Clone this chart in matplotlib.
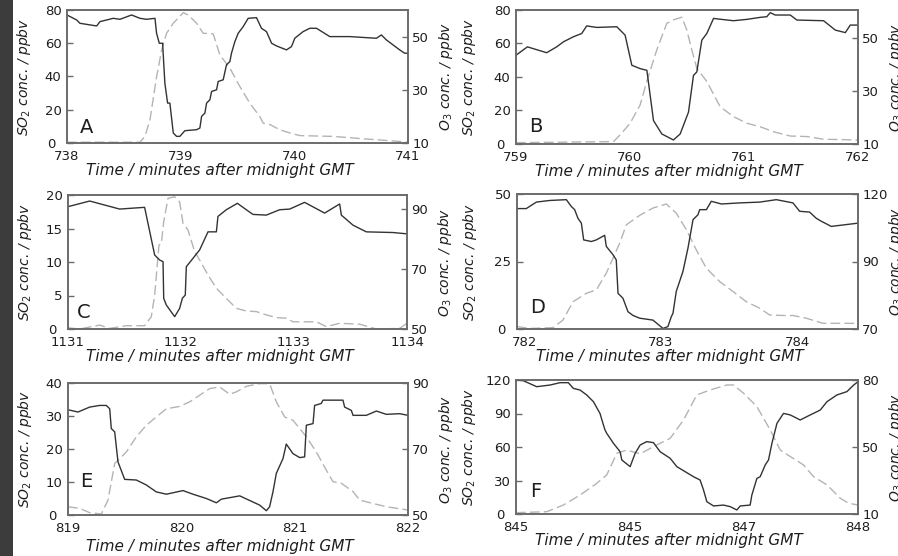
import matplotlib
matplotlib.use("Agg")
import matplotlib.pyplot as plt
from matplotlib.patches import Rectangle
from matplotlib.transforms import ScaledTranslation

plt.rcParams['font.family'] = ['DejaVu Sans']
plt.rcParams['mathtext.fontset'] = 'dejavusans'

# ---- data (time in minutes after midnight GMT) ----
a_so2_t = [738.00, 738.085, 738.114, 738.261, 738.29, 738.349, 738.407, 738.466, 738.568, 738.642,
           738.70, 738.774, 738.788, 738.812, 738.841, 738.861, 738.885, 738.905, 738.935, 738.964,
           738.993, 739.037, 739.14, 739.169, 739.184, 739.213, 739.228, 739.257, 739.272, 739.316,
           739.330, 739.374, 739.403, 739.433, 739.447, 739.477, 739.506, 739.55, 739.594, 739.667,
           739.711, 739.755, 739.80, 739.843, 739.931, 739.975, 740.004, 740.077, 740.136, 740.195,
           740.312, 740.488, 740.722, 740.766, 740.81, 740.927, 740.971, 741.0]
a_so2 = [77, 74, 72, 70.4, 73, 74, 75, 74.4, 77, 75, 74.4, 75, 66, 60, 60, 36, 24, 24, 6, 4,
         4, 7.4, 8, 9, 16, 18, 24, 26, 31, 32, 37, 38, 47, 49, 54, 61, 66, 70, 75, 75.4,
         69, 67, 60, 58.4, 56, 58, 63, 67, 69, 69, 64, 64, 63, 65, 62, 56, 54, 54]
a_o3_t = [738.0, 738.642, 738.686, 738.73, 738.788, 738.832, 738.876, 738.935, 739.023, 739.067,
          739.14, 739.198, 739.286, 739.345, 739.433, 739.52, 739.609, 739.696, 739.726, 739.784,
          739.872, 739.96, 740.048, 740.341, 740.634, 740.927, 741.0]
a_o3 = [10.3, 10.3, 12.5, 18.8, 35, 45, 51.5, 55.3, 59.3, 58.4, 55.3, 51.5, 51.3, 43.3, 38.3,
        31.4, 25, 20, 17.5, 17, 15, 13.8, 12.8, 12.5, 11.5, 10.6, 10.3]

b_so2_t = [759.0, 759.1, 759.269, 759.357, 759.416, 759.503, 759.577, 759.62, 759.708, 759.884,
           759.957, 760.016, 760.089, 760.148, 760.206, 760.279, 760.381, 760.44, 760.513, 760.557,
           760.586, 760.63, 760.674, 760.733, 760.776, 760.908, 761.025, 761.142, 761.2, 761.23,
           761.274, 761.406, 761.464, 761.698, 761.801, 761.889, 761.932, 762.0]
b_so2 = [53, 58, 54.5, 58, 61, 64, 66, 70.5, 69.6, 70, 65, 47, 45, 44, 14, 6, 2.4, 6, 19, 41,
         43, 62, 66, 75, 74.6, 73.6, 74.4, 75.6, 76, 78.4, 77, 77, 74, 73.6, 68, 66.5, 71, 71]
b_o3_t = [759.0, 759.855, 759.913, 760.001, 760.089, 760.147, 760.235, 760.323, 760.381, 760.455,
          760.498, 760.542, 760.586, 760.674, 760.791, 760.908, 761.025, 761.142, 761.259, 761.406,
          761.552, 761.698, 762.0]
b_o3 = [10.5, 10.9, 13.4, 17.8, 24.7, 33.5, 45.4, 55.4, 56.7, 57.7, 52.9, 45.4, 38.5, 33.5, 24,
        20.3, 17.8, 16.5, 14.6, 13, 12.8, 11.8, 11.5]

c_so2_t = [1131.0, 1131.192, 1131.457, 1131.678, 1131.767, 1131.811, 1131.841, 1131.847, 1131.87,
           1131.944, 1131.988, 1132.012, 1132.038, 1132.047, 1132.165, 1132.239, 1132.313, 1132.327,
           1132.401, 1132.499, 1132.578, 1132.637, 1132.755, 1132.873, 1132.962, 1133.094, 1133.271,
           1133.404, 1133.419, 1133.522, 1133.64, 1133.876, 1134.0]
c_so2 = [18.26, 19.1, 17.9, 18.16, 11.04, 10.3, 10.05, 4.58, 3.58, 1.84, 3.08, 4.58, 5.07, 9.3,
         11.8, 14.5, 14.5, 16.8, 17.8, 18.76, 17.8, 17.1, 17.0, 17.8, 17.9, 18.9, 17.3, 18.66,
         17.0, 15.5, 14.5, 14.4, 14.2]
c_o3_t = [1131.0, 1131.103, 1131.28, 1131.369, 1131.516, 1131.678, 1131.737, 1131.767, 1131.805,
          1131.826, 1131.847, 1131.885, 1131.944, 1131.988, 1132.018, 1132.062, 1132.121, 1132.165,
          1132.239, 1132.313, 1132.401, 1132.49, 1132.578, 1132.667, 1132.755, 1132.844, 1132.932,
          1132.991, 1133.198, 1133.286, 1133.404, 1133.581, 1133.729, 1133.935, 1134.0]
c_o3 = [50.4, 50, 51.3, 50.2, 51.1, 51.1, 54.1, 61.3, 78, 78.5, 85.8, 93.6, 94.1, 92.4, 85.2, 83,
        75.8, 73, 68, 63.6, 60.2, 56.9, 56, 55.8, 54.7, 53.8, 53.6, 52.4, 52.4, 50.8, 51.9, 51.6,
        50, 50.2, 51.9]

d_so2_t = [781.944, 782.012, 782.086, 782.183, 782.306, 782.342, 782.367, 782.391, 782.416, 782.433,
           782.489, 782.526, 782.587, 782.599, 782.648, 782.672, 782.685, 782.721, 782.758, 782.795,
           782.844, 782.941, 783.015, 783.051, 783.076, 783.088, 783.112, 783.161, 783.198, 783.235,
           783.271, 783.284, 783.333, 783.369, 783.443, 783.577, 783.724, 783.846, 783.968, 784.017,
           784.09, 784.139, 784.176, 784.249, 784.445]
d_so2 = [44.6, 44.6, 47, 47.6, 47.9, 45.4, 44.2, 41, 39.2, 33, 32.4, 33, 34.7, 30.6, 27.5, 25.6,
         13.2, 11.4, 6.4, 5, 4, 3.3, 0.2, 0.9, 4.6, 5.8, 13.9, 21.3, 30, 40.5, 42.3, 44.2, 44.2,
         47.3, 46.3, 46.7, 47, 47.9, 46.7, 43.6, 43.3, 41, 39.9, 38, 39.2]
d_o3_t = [781.944, 782.037, 782.208, 782.281, 782.355, 782.452, 782.526, 782.599, 782.648, 782.697,
          782.746, 782.844, 782.941, 783.039, 783.112, 783.186, 783.259, 783.333, 783.43, 783.528,
          783.626, 783.724, 783.797, 783.895, 783.968, 784.066, 784.188, 784.311, 784.445]
d_o3 = [70.9, 70.2, 70.5, 73.3, 80.1, 83.2, 84.5, 90.7, 96.2, 101.8, 108.6, 112.1, 114.8, 116.3,
        112.9, 106.8, 99.3, 92.5, 87.6, 83.9, 80.1, 77.7, 75.2, 75, 75, 74, 72.1, 72.1, 72.1]

e_so2_t = [819.0, 819.088, 819.191, 819.279, 819.338, 819.368, 819.382, 819.412, 819.441, 819.5,
           819.603, 819.691, 819.779, 819.868, 820.015, 820.103, 820.221, 820.309, 820.353, 820.515,
           820.691, 820.75, 820.779, 820.809, 820.838, 820.897, 820.926, 820.985, 821.044, 821.088,
           821.103, 821.162, 821.176, 821.235, 821.25, 821.426, 821.441, 821.5, 821.515, 821.632,
           821.721, 821.809, 821.926, 822.0]
e_so2 = [31.9, 31.2, 32.7, 33.2, 33.2, 32.2, 26.2, 25.2, 16.1, 10.8, 10.6, 9.1, 7, 6.3, 7.4, 6.3,
         5, 3.7, 4.8, 5.8, 3, 1.3, 2.5, 7.1, 12.6, 17.1, 21.5, 18.6, 17.4, 17.6, 27.2, 27.7, 33.2,
         33.8, 34.8, 34.8, 32.7, 31.7, 30.2, 30.2, 31.5, 30.5, 30.7, 30.2]
e_o3_t = [819.0, 819.103, 819.191, 819.294, 819.353, 819.412, 819.515, 819.603, 819.691, 819.779,
          819.868, 819.985, 820.074, 820.25, 820.338, 820.426, 820.485, 820.574, 820.691, 820.779,
          820.838, 820.912, 820.985, 821.103, 821.191, 821.279, 821.338, 821.412, 821.515, 821.574,
          821.691, 821.809, 822.0]
e_o3 = [52.5, 52, 50.7, 50.3, 54.5, 65.6, 69.1, 73.7, 77.2, 79.7, 82.2, 82.9, 84.3, 88.3, 88.8,
        86.6, 87.3, 89, 89.8, 89.8, 84.3, 79.7, 78.7, 73.7, 69.1, 63.6, 60.1, 59.6, 57.1, 54.5,
        53.5, 52.5, 51.5]

f_so2_t = [845.0, 845.064, 845.181, 845.299, 845.386, 845.459, 845.503, 845.562, 845.62, 845.679,
           845.737, 845.767, 845.781, 845.796, 845.855, 845.913, 845.928, 846.001, 846.045, 846.089,
           846.147, 846.206, 846.264, 846.352, 846.411, 846.557, 846.615, 846.645, 846.674, 846.733,
           846.82, 846.879, 846.937, 846.967, 847.054, 847.069, 847.113, 847.142, 847.186, 847.215,
           847.245, 847.289, 847.347, 847.406, 847.493, 847.581, 847.669, 847.728, 847.815, 847.903,
           847.962, 848.0]
f_so2 = [120, 119.4, 114, 115.5, 117.6, 117.6, 112.5, 111, 106.6, 100.6, 90, 79.7, 75.2, 72.2,
         63.3, 55.8, 48.4, 42.4, 54.3, 61.8, 64.8, 63.9, 55.8, 49.9, 42.4, 33.4, 30.4, 21.5, 11,
         7.2, 8, 6.6, 3.6, 7.2, 8, 17, 31.9, 33.4, 43.9, 48.4, 63.3, 81.2, 90.1, 88.7, 84.2, 88.7,
         93.1, 100.6, 106.6, 109.6, 115.5, 118.5]
f_o3_t = [845.0, 845.269, 845.416, 845.562, 845.708, 845.796, 845.884, 845.972, 846.089, 846.206,
          846.352, 846.469, 846.586, 846.703, 846.85, 846.908, 846.996, 847.113, 847.23, 847.318,
          847.406, 847.523, 847.61, 847.728, 847.845, 847.918, 848.0]
f_o3 = [10.7, 11.2, 14.7, 19.9, 26, 30.4, 41.7, 43.4, 41.4, 45.2, 49.5, 59.1, 72.2, 74.8, 77.4,
        77.4, 73.1, 66.1, 53.9, 43.4, 40, 35.6, 29.5, 25.2, 18.2, 15.6, 14.7]

# axis ranges and tick labels as printed in the figure
x_ticks = {'A': [738, 739, 740, 741], 'B': [759, 760, 761, 762], 'C': [1131, 1132, 1133, 1134],
           'D': [782, 783, 784], 'E': [819, 820, 821, 822], 'F': [845, 846, 847, 848]}
x_tick_labels = {'F': ['845', '845', '847', '848']}
so2_ticks = {'A': [0, 20, 40, 60, 80], 'B': [0, 20, 40, 60, 80], 'C': [0, 5, 10, 15, 20],
             'D': [0, 25, 50], 'E': [0, 10, 20, 30, 40], 'F': [0, 30, 60, 90, 120]}
o3_ticks = {'A': [10, 30, 50], 'B': [10, 30, 50], 'C': [50, 70, 90],
            'D': [70, 95, 120], 'E': [50, 70, 90], 'F': [10, 45, 80]}
o3_tick_labels = {'D': ['70', '90', '120'], 'F': ['10', '50', '80']}
o3_lims = {'A': (10, 60.3), 'B': (10, 60.4), 'C': (50, 94.7), 'D': (70, 120),
           'E': (50, 90), 'F': (10, 80)}
x_lims = {'D': (781.944, 784.445)}

series = {'A': (a_so2_t, a_so2, a_o3_t, a_o3), 'B': (b_so2_t, b_so2, b_o3_t, b_o3),
          'C': (c_so2_t, c_so2, c_o3_t, c_o3), 'D': (d_so2_t, d_so2, d_o3_t, d_o3),
          'E': (e_so2_t, e_so2, e_o3_t, e_o3), 'F': (f_so2_t, f_so2, f_o3_t, f_o3)}

# layout: axes box in pixels (left, top, right, bottom), letter position (axes fraction),
# gap in pixels between axis bottom and the x label
W, H = 898, 556
boxes = {'A': (67, 10, 408, 143), 'B': (516, 10, 858, 144),
         'C': (68, 195, 407, 329), 'D': (517, 194, 858, 329),
         'E': (68, 383, 408, 515), 'F': (516, 380, 858, 514)}
letter_pos = {'A': (0.038, 0.075), 'B': (0.038, 0.09), 'C': (0.027, 0.08),
              'D': (0.038, 0.12), 'E': (0.035, 0.21), 'F': (0.04, 0.127)}
xlabel_gap = {'A': 20, 'B': 20, 'C': 20, 'D': 20, 'E': 24, 'F': 19}

SPINE = '#6b6b6b'
TXT = '#1e1e1e'

fig = plt.figure(figsize=(W / 100, H / 100), dpi=100)

# dark strip at the left edge of the scanned page
fig.patches.append(Rectangle((0, 0), 13 / W, 1, transform=fig.transFigure,
                             facecolor='#3c3c3c', edgecolor='none'))

for key in 'ABCDEF':
    l, t, r, b = boxes[key]
    ax = fig.add_axes([l / W, 1 - b / H, (r - l) / W, (b - t) / H])
    ax2 = ax.twinx()
    so2_t, so2, o3_t, o3 = series[key]

    ax2.plot(o3_t, o3, color='#b4b4b4', lw=1.0, dashes=(7, 3))
    ax.plot(so2_t, so2, color='#333333', lw=1.0)
    ax.set_zorder(ax2.get_zorder() + 1)
    ax.patch.set_visible(False)

    xt = x_ticks[key]
    ax.set_xlim(x_lims.get(key, (xt[0], xt[-1])))
    ax.set_xticks(xt)
    ax.set_xticklabels(x_tick_labels.get(key, [str(v) for v in xt]))
    st = so2_ticks[key]
    ax.set_ylim(st[0], st[-1])
    ax.set_yticks(st)
    ax2.set_ylim(*o3_lims[key])
    ax2.set_yticks(o3_ticks[key])
    ax2.set_yticklabels(o3_tick_labels.get(key, [str(v) for v in o3_ticks[key]]))

    for a in (ax, ax2):
        for s in a.spines.values():
            s.set_color(SPINE)
            s.set_linewidth(1.2)
    ax.tick_params(axis='x', length=0, pad=5, labelsize=9.5, labelcolor=TXT)
    ax.tick_params(axis='y', direction='in', length=4.5, width=1, color=SPINE,
                   pad=4, labelsize=9.5, labelcolor=TXT)
    ax2.tick_params(axis='y', direction='in', length=4.5, width=1, color=SPINE,
                    pad=3, labelsize=9.5, labelcolor=TXT)

    # the bottom-left "0" sits a little further out, clear of the first time label
    zero = ax.yaxis.get_major_ticks()[0].label1
    zero.set_transform(zero.get_transform() + ScaledTranslation(-0.06, 0, fig.dpi_scale_trans))

    ax.set_xlabel('Time / minutes after midnight GMT', fontsize=11, style='italic', color=TXT)
    ax.xaxis.set_label_coords(0.447, -xlabel_gap[key] / (b - t))
    ax.set_ylabel('SO$_2$ conc. / ppbv', fontsize=10, style='italic', color=TXT)
    ax2.set_ylabel('O$_3$ conc. / ppbv', fontsize=10, style='italic', color=TXT)
    lx = -34 / (r - l) if l < 200 else -38 / (r - l)
    ax.yaxis.set_label_coords(lx, 0.5)
    ax2.yaxis.set_label_coords(1 + 29 / (r - l), 0.5)

    px, py = letter_pos[key]
    ax.text(px, py, key, transform=ax.transAxes, fontsize=14, color=TXT)

fig.savefig('out.png', dpi=100)
